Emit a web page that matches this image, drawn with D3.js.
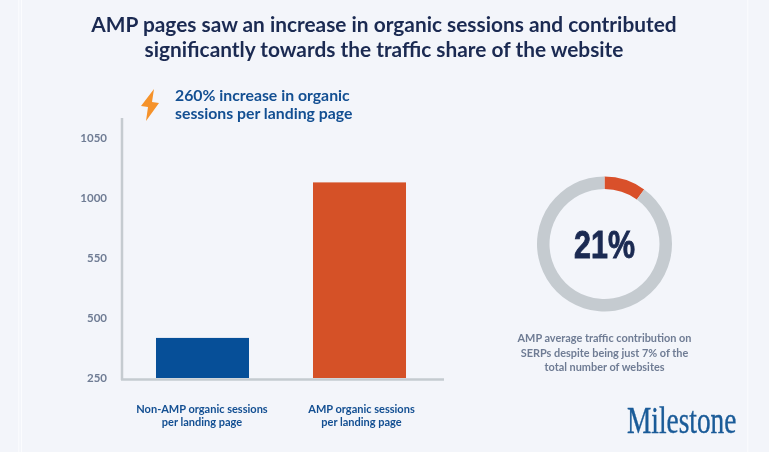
<!DOCTYPE html>
<html>
<head>
<meta charset="utf-8">
<script src="https://cdn.jsdelivr.net/npm/d3@7"></script>
<style>
  html, body { margin: 0; padding: 0; background: #f3f5fa; }
  svg { display: block; filter: blur(0.35px); }
  text { font-family: Lato, "Noto Sans", sans-serif; }
</style>
</head>
<body>
<div id="chart"></div>
<script>
const titleLines = ['AMP pages saw an increase in organic sessions and contributed', 'significantly towards the traffic share of the website']
const calloutLines = ['260% increase in organic', 'sessions per landing page']
const categories = ['Non-AMP organic sessions|per landing page', 'AMP organic sessions|per landing page']
const sessions = [417, 1013]
const barColors = ['#064f98', '#d55127']
const yTicks = [250, 500, 550, 1000, 1050]
const ringShare = [10, 90]
const ringColors = ['#d9502a', '#c5cbd0']
const ringLabel = '21%'
const noteLines = ['AMP average traffic contribution on', 'SERPs despite being just 7% of the', 'total number of websites']

const width = 769
const height = 452
const NAVY = '#1b2a52'
const BLUE = '#134f92'
const GREY = '#6f7c94'

const svg = d3.select('#chart').append('svg')
  .attr('width', width).attr('height', height)

// faint panel edges
svg.selectAll('line.edge')
  .data([18.8, 21.5, 747.7])
  .enter().append('line')
  .classed('edge', true)
  .attr('x1', d => d).attr('x2', d => d).attr('y1', 0).attr('y2', height)
  .attr('stroke', '#fbfcfe').attr('stroke-width', 1)

svg.selectAll('text.title')
  .data(titleLines)
  .enter().append('text')
  .classed('title', true)
  .attr('x', 384).attr('y', (d, i) => 32 + i * 24.5)
  .attr('text-anchor', 'middle')
  .attr('font-size', 20.85).attr('font-weight', 700).attr('fill', NAVY)
  .text(d => d)

// bolt icon
svg.append('path')
  .attr('d', 'M154,89 L141,106 L148,107 L146,121 L159,103 L152,102 Z')
  .attr('fill', '#f5922a')

svg.selectAll('text.callout')
  .data(calloutLines)
  .enter().append('text')
  .classed('callout', true)
  .attr('x', 175).attr('y', (d, i) => 101 + i * 18)
  .attr('font-size', 15.8).attr('font-weight', 700).attr('fill', BLUE)
  .text(d => d)

// evenly spaced ticks on the original's uneven axis
const yScale = d3.scaleLinear()
  .domain(yTicks)
  .range([378, 318, 258, 198, 138])

const xScale = d3.scaleBand()
  .domain(categories)
  .range([124, 438])
  .paddingInner(0.4076)
  .paddingOuter(0.2038)

const yAxis = d3.axisLeft(yScale).tickValues(yTicks).tickSize(0).tickPadding(15).tickFormat(d3.format('d'))
svg.append('g')
  .attr('transform', 'translate(122,0)')
  .call(yAxis)
  .call(g => g.select('.domain').remove())
  .call(g => g.selectAll('text')
    .attr('font-size', 11.5).attr('font-weight', 700).attr('fill', GREY)
    .style('font-family', 'Lato'))

svg.append('line')
  .attr('x1', 122).attr('x2', 122).attr('y1', 118).attr('y2', 380)
  .attr('stroke', '#c5cbd0').attr('stroke-width', 2.5)
svg.append('line')
  .attr('x1', 121).attr('x2', 444).attr('y1', 379.5).attr('y2', 379.5)
  .attr('stroke', '#c5cbd0').attr('stroke-width', 2.5)

svg.selectAll('rect.bar')
  .data(sessions)
  .enter().append('rect')
  .classed('bar', true)
  .attr('x', (d, i) => xScale(categories[i]))
  .attr('y', d => yScale(d))
  .attr('width', xScale.bandwidth())
  .attr('height', d => yScale(250) - yScale(d))
  .attr('fill', (d, i) => barColors[i])

categories.forEach((c, k) => {
  svg.selectAll(null)
    .data(c.split('|'))
    .enter().append('text')
    .attr('x', xScale(c) + xScale.bandwidth() / 2 + (k === 0 ? -0.5 : 2))
    .attr('y', (d, i) => 413 + i * 13)
    .attr('text-anchor', 'middle')
    .attr('font-size', 11).attr('font-weight', 700).attr('fill', BLUE)
    .text(d => d)
})

const ring = svg.append('g').attr('transform', 'translate(604.5,244)')
const pie = d3.pie().sort(null)
const arc = d3.arc().innerRadius(55).outerRadius(67.5)

ring.selectAll('path')
  .data(pie(ringShare))
  .enter().append('path')
  .attr('d', arc)
  .attr('fill', (d, i) => ringColors[i])

ring.append('text')
  .attr('transform', 'translate(0,14) scale(0.8,1)')
  .attr('text-anchor', 'middle')
  .attr('font-size', 38).attr('font-weight', 700).attr('fill', NAVY)
  .attr('stroke', NAVY).attr('stroke-width', 0.9)
  .style('font-family', '"Liberation Sans"')
  .text(ringLabel)

svg.selectAll('text.note')
  .data(noteLines)
  .enter().append('text')
  .classed('note', true)
  .attr('x', 604.5).attr('y', (d, i) => 342 + i * 14.5)
  .attr('text-anchor', 'middle')
  .attr('font-size', 10.9).attr('font-weight', 700).attr('fill', GREY)
  .text(d => d)

svg.append('text')
  .attr('transform', 'translate(627,433) scale(0.72,1)')
  .attr('font-size', 38).attr('fill', '#1a5b98')
  .attr('stroke', '#1a5b98').attr('stroke-width', 0.4)
  .style('font-family', '"Liberation Serif"')
  .text('Milestone')
</script>
</body>
</html>
